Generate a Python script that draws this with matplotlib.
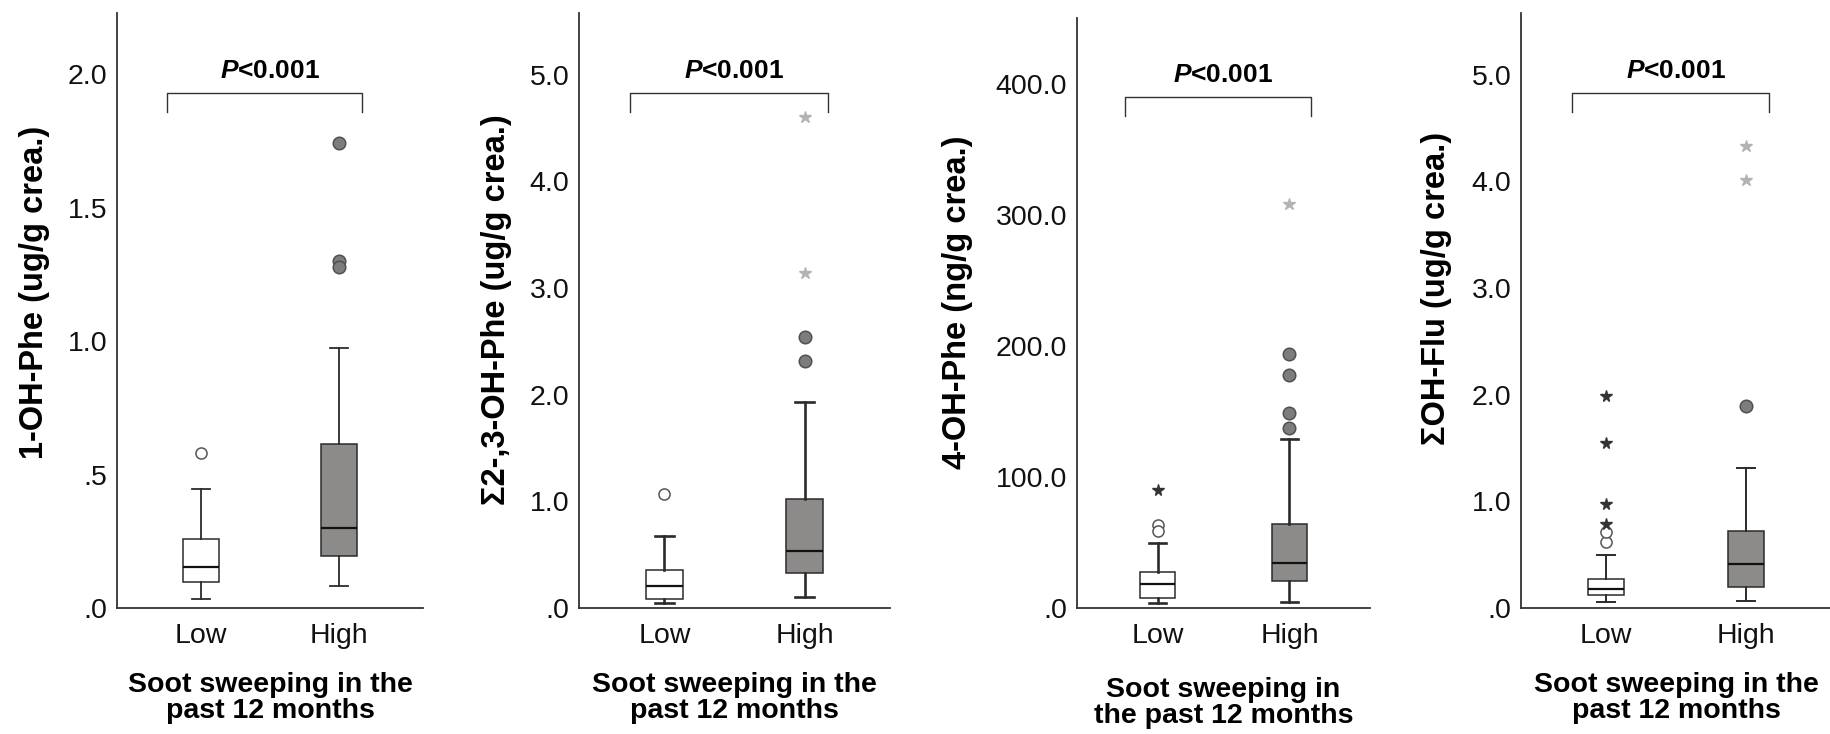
import matplotlib
matplotlib.use("Agg")
import matplotlib.pyplot as plt
import matplotlib.transforms as mtransforms

plt.rcParams["font.family"] = ["Liberation Sans", "DejaVu Sans"]
plt.rcParams["mathtext.fontset"] = "custom"
plt.rcParams["mathtext.bfit"] = "Liberation Sans:italic:bold"
plt.rcParams["mathtext.bf"] = "Liberation Sans:bold"
plt.rcParams["mathtext.rm"] = "Liberation Sans"

groups = ["Low", "High"]

# box stats per panel: [whislo, q1, med, q3, whishi] for Low and High
phe1_low = [0.032, 0.096, 0.154, 0.257, 0.445]
phe1_high = [0.082, 0.196, 0.298, 0.613, 0.975]
phe1_low_circ = [0.58]
phe1_high_circ = [1.743, 1.30, 1.278]
phe1_low_star = []
phe1_high_star = []

phe23_low = [0.044, 0.088, 0.21, 0.36, 0.671]
phe23_high = [0.10, 0.33, 0.535, 1.018, 1.93]
phe23_low_circ = [1.066]
phe23_high_circ = [2.54, 2.32]
phe23_low_star = []
phe23_high_star = [4.6, 3.14]

phe4_low = [3.6, 7.9, 18.2, 27.5, 49.8]
phe4_high = [4.6, 20.7, 34.6, 64.3, 128.6]
phe4_low_circ = [63.3, 59.0]
phe4_high_circ = [194, 178, 149, 137.5]
phe4_low_star = [90]
phe4_high_star = [308]

flu_low = [0.06, 0.123, 0.182, 0.276, 0.495]
flu_high = [0.066, 0.197, 0.408, 0.724, 1.316]
flu_low_circ = [0.62, 0.714]
flu_high_circ = [1.895]
flu_low_star = [0.79, 0.98, 1.55, 1.99]
flu_high_star = [4.33, 4.01]

ylabels = ["1-OH-Phe (ug/g crea.)", "\u03a32-,3-OH-Phe (ug/g crea.)",
           "4-OH-Phe (ng/g crea.)", "\u03a3OH-Flu (ug/g crea.)"]
yticks = [[0, 0.5, 1.0, 1.5, 2.0], [0, 1, 2, 3, 4, 5],
          [0, 100, 200, 300, 400], [0, 1, 2, 3, 4, 5]]
yticklabels = [[".0", ".5", "1.0", "1.5", "2.0"],
               [".0", "1.0", "2.0", "3.0", "4.0", "5.0"],
               [".0", "100.0", "200.0", "300.0", "400.0"],
               [".0", "1.0", "2.0", "3.0", "4.0", "5.0"]]
ytops = [2.23, 5.58, 450, 5.58]
xlabels = ["Soot sweeping in the\npast 12 months", "Soot sweeping in the\npast 12 months",
           "Soot sweeping in\nthe past 12 months", "Soot sweeping in the\npast 12 months"]
ptext = r"$\mathbfit{P}$<0.001"

panels = [
    (phe1_low, phe1_high, phe1_low_circ, phe1_high_circ, phe1_low_star, phe1_high_star),
    (phe23_low, phe23_high, phe23_low_circ, phe23_high_circ, phe23_low_star, phe23_high_star),
    (phe4_low, phe4_high, phe4_low_circ, phe4_high_circ, phe4_low_star, phe4_high_star),
    (flu_low, flu_high, flu_low_circ, flu_high_circ, flu_low_star, flu_high_star),
]

W, H = 1831, 734
fig = plt.figure(figsize=(W / 100, H / 100), dpi=100)

# layout in pixels
ax_lr = [(117, 423), (579, 890), (1077, 1370), (1521, 1831)]
ax_top = [13, 13, 18, 13]
ax_bot = 608
ylab_xy = [(35, 292), (497, 310), (958, 302), (1437, 288)]
xlab_y = [698, 698, 703, 698]
whisk_lw = [1.3, 1.9, 1.9, 1.4]

box_gray = "#8d8a8a"
edge = "#2b2b2b"

for i, (low, high, lc, hc, ls, hs) in enumerate(panels):
    l, r = ax_lr[i]
    ax = fig.add_axes([l / W, 1 - ax_bot / H, (r - l) / W, (ax_bot - ax_top[i]) / H])
    stats = []
    for name, s in zip(groups, [low, high]):
        stats.append(dict(label=name, whislo=s[0], q1=s[1], med=s[2], q3=s[3],
                          whishi=s[4], fliers=[]))
    bp = ax.bxp(stats, positions=[0, 1], widths=0.26, patch_artist=True,
                showfliers=False,
                boxprops=dict(linewidth=1.1, edgecolor=edge),
                medianprops=dict(color="#111111", linewidth=1.6),
                whiskerprops=dict(color=edge, linewidth=whisk_lw[i]),
                capprops=dict(color=edge, linewidth=whisk_lw[i]),
                capwidths=0.13)
    bp["boxes"][0].set_facecolor("white")
    bp["boxes"][1].set_facecolor(box_gray)

    # outliers (circles) and extremes (stars)
    ax.plot([0] * len(lc), lc, "o", ms=8, mfc="white", mec="#555555", mew=1.1)
    ax.plot([1] * len(hc), hc, "o", ms=9, mfc="#7d7d7d", mec="#505050", mew=1.1)
    ax.plot([0] * len(ls), ls, "*", ms=8.5, color="#333333")
    ax.plot([1] * len(hs), hs, "*", ms=9, color="#b3b3b3")

    ax.set_xlim(-0.61, 1.61)
    ax.set_ylim(0, ytops[i])
    ax.set_yticks(yticks[i])
    ax.set_yticklabels(yticklabels[i])
    ax.set_xticks([0, 1])
    ax.set_xticklabels(groups)
    ax.tick_params(length=0, labelsize=20.5, colors="#111111")
    ax.tick_params(axis="y", pad=7)
    ax.tick_params(axis="x", pad=11)
    for sp in ["top", "right"]:
        ax.spines[sp].set_visible(False)
    for sp in ["left", "bottom"]:
        ax.spines[sp].set_color("#333333")
        ax.spines[sp].set_linewidth(1.3)

    # significance bracket
    trans = mtransforms.blended_transform_factory(ax.transData, ax.transAxes)
    ax.plot([-0.245, -0.245, 1.165, 1.165], [0.834, 0.866, 0.866, 0.834],
            transform=trans, color="#333333", lw=1.0, clip_on=False)
    ax.text(0.5, 0.903, ptext, transform=ax.transAxes, ha="center", va="center",
            fontsize=19, fontweight="bold")

    fig.text(ylab_xy[i][0] / W, 1 - ylab_xy[i][1] / H, ylabels[i], rotation=90,
             ha="center", va="center", fontsize=23.5, fontweight="bold")
    fig.text((l + r) / 2 / W, 1 - xlab_y[i] / H, xlabels[i], ha="center", va="center",
             fontsize=20.5, fontweight="bold", linespacing=1.0)

fig.savefig("out.png", dpi=100)
